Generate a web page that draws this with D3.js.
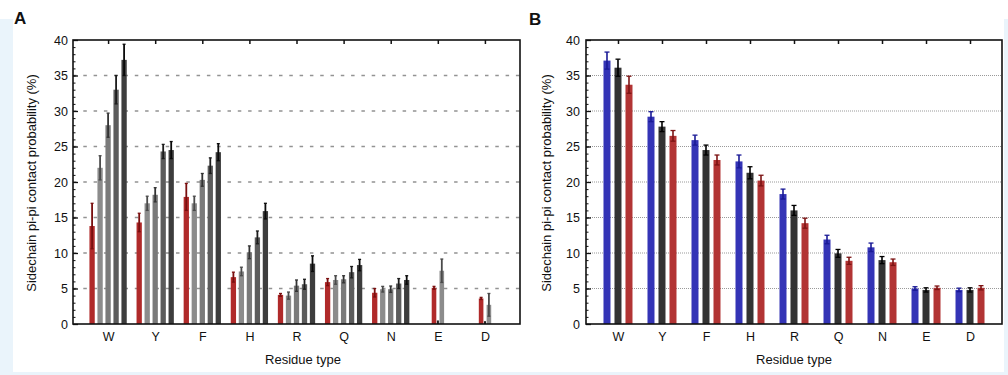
<!DOCTYPE html>
<html>
<head>
<meta charset="utf-8">
<script src="https://cdn.jsdelivr.net/npm/d3@7"></script>
<style>
  body { margin: 0; background: #eaf4fb; }
  svg { display: block; }
  text { font-family: "Liberation Sans", Arial, sans-serif; fill: #111; }
</style>
</head>
<body>
<svg id="chart" width="1008" height="375"></svg>
<script>
// ---- DATA ----
const residues = ["W", "Y", "F", "H", "R", "Q", "N", "E", "D"];
const yTicks = [0, 5, 10, 15, 20, 25, 30, 35, 40];

// Panel A: one red series and four gray series
const aSeries = ["red", "g1", "g2", "g3", "g4"];
const aRed    = [13.8, 14.3, 17.9, 6.6, 4.1, 5.9, 4.4, 5.1, 3.6];
const aRedErr = [3.2, 1.3, 1.9, 0.7, 0.2, 0.5, 0.6, 0.2, 0.15];
const aG1     = [22.0, 17.0, 17.0, 7.4, 4.0, 6.2, 4.9, 7.5, 2.7];
const aG1Err  = [1.7, 1.0, 1.0, 0.6, 0.5, 0.6, 0.4, 1.65, 1.6];
const aG2     = [28.0, 18.2, 20.3, 10.1, 5.4, 6.3, 4.9, null, null];
const aG2Err  = [1.7, 1.0, 0.9, 0.9, 0.8, 0.5, 0.45, null, null];
const aG3     = [33.0, 24.3, 22.3, 12.2, 5.6, 7.3, 5.7, null, null];
const aG3Err  = [2.0, 1.0, 1.1, 0.9, 0.7, 0.8, 0.7, null, null];
const aG4     = [37.2, 24.5, 24.2, 15.9, 8.5, 8.3, 6.2, null, null];
const aG4Err  = [2.2, 1.2, 1.2, 1.1, 1.1, 0.8, 0.6, null, null];
// small dark stub drawn between the two bars of E and D
const aStub   = [null, null, null, null, null, null, null, 0.5, 0.4];

// Panel B: blue, black, red series
const bSeries  = ["blue", "black", "red"];
const bBlue    = [37.1, 29.2, 25.9, 22.9, 18.3, 11.9, 10.8, 5.0, 4.8];
const bBlueErr = [1.2, 0.7, 0.7, 0.9, 0.7, 0.6, 0.6, 0.25, 0.25];
const bBlack   = [36.1, 27.8, 24.5, 21.3, 16.0, 9.95, 9.0, 4.8, 4.8];
const bBlackErr= [1.2, 0.7, 0.7, 0.85, 0.7, 0.55, 0.5, 0.3, 0.3];
const bRed     = [33.7, 26.5, 23.1, 20.2, 14.2, 8.9, 8.7, 5.1, 5.1];
const bRedErr  = [1.2, 0.75, 0.7, 0.75, 0.7, 0.5, 0.45, 0.25, 0.3];

const svg = d3.select("#chart");

// background: white figure on pale blue page
svg.append("rect").attr("width", 1008).attr("height", 375).attr("fill", "#eaf4fb");
svg.append("rect").attr("width", 1008).attr("height", 19).attr("fill", "#fff");
svg.append("rect").attr("x", 13).attr("width", 991).attr("height", 372).attr("fill", "#fff");

// horizontal grid for one panel
function drawGrid(g, y, left, right, gridStyle) {
  g.append("g").selectAll("line")
    .data(yTicks.filter(t => t > 0 && t < 40))
    .join("line")
    .attr("x1", left).attr("x2", right)
    .attr("y1", d => y(d)).attr("y2", d => y(d))
    .attr("stroke", gridStyle.color)
    .attr("stroke-width", gridStyle.width)
    .attr("stroke-dasharray", gridStyle.dash);
}

function drawAxes(g, x, y, left, right, top, bottom, labelPad) {
  // minor ticks
  g.append("g").attr("transform", `translate(${left},0)`)
    .call(d3.axisLeft(y).tickValues(d3.range(0, 41, 1)).tickSize(-2.5).tickFormat(""))
    .call(a => a.select(".domain").remove())
    .call(a => a.selectAll("line").attr("stroke", "#111").attr("stroke-width", 1));
  // major ticks + labels
  g.append("g").attr("transform", `translate(${left},0)`)
    .call(d3.axisLeft(y).tickValues(yTicks).tickSizeInner(-5).tickSizeOuter(0).tickPadding(labelPad))
    .call(a => a.select(".domain").remove())
    .call(a => a.selectAll("line").attr("stroke", "#111").attr("stroke-width", 1.3))
    .call(a => a.selectAll("text").style("font-size", "12.5px").attr("fill", "#111"));
  // top category ticks
  g.append("g").attr("transform", `translate(0,${top})`)
    .call(d3.axisTop(x).tickSize(-4).tickFormat(""))
    .call(a => a.select(".domain").remove())
    .call(a => a.selectAll("line").attr("stroke", "#111").attr("stroke-width", 1.5));
  // bottom category labels
  g.append("g").attr("transform", `translate(0,${bottom})`)
    .call(d3.axisBottom(x).tickSize(0).tickPadding(8.5))
    .call(a => a.select(".domain").remove())
    .call(a => a.selectAll("text").style("font-size", "12.5px").attr("fill", "#111"));
  // frame
  g.append("rect")
    .attr("x", left).attr("y", top)
    .attr("width", right - left).attr("height", bottom - top)
    .attr("fill", "none").attr("stroke", "#111").attr("stroke-width", 1.6);
}

function drawErr(g, recs, capW) {
  const eg = g.append("g");
  recs.filter(d => d.e != null).forEach(d => {
    eg.append("line")
      .attr("x1", d.x).attr("x2", d.x)
      .attr("y1", d.y(d.v + d.e)).attr("y2", d.y(Math.max(0, d.v - d.e)))
      .attr("stroke", d.ec).attr("stroke-width", d.ew);
    [d.v + d.e, d.v - d.e].forEach(t => {
      eg.append("line")
        .attr("x1", d.x - capW / 2).attr("x2", d.x + capW / 2)
        .attr("y1", d.y(t)).attr("y2", d.y(t))
        .attr("stroke", d.ec).attr("stroke-width", 1.3);
    });
  });
}

// ---------------- PANEL A ----------------
{
  const left = 73, right = 520, top = 40, bottom = 324;
  const x = d3.scalePoint().domain(residues).range([left, right]).padding(0.745);
  const y = d3.scaleLinear().domain([0, 40]).range([bottom, top]);
  const inner = d3.scalePoint().domain(aSeries).range([-16, 16]);
  const innerSparse = d3.scalePoint().domain(["red", "stub", "g1"]).range([-3.8, 4]);
  const g = svg.append("g");

  drawGrid(g, y, left, right, { color: "#939393", width: 1.3, dash: "3.5 6.8" });

  const vals = { red: aRed, g1: aG1, g2: aG2, g3: aG3, g4: aG4 };
  const errs = { red: aRedErr, g1: aG1Err, g2: aG2Err, g3: aG3Err, g4: aG4Err };
  const fill = { red: "#b02a2a", g1: "#8c8c8c", g2: "#7a7a7a", g3: "#5c5c5c", g4: "#3d3d3d", stub: "#222" };
  const ecol = { red: "#7a0f0f", g1: "#4a4a4a", g2: "#333", g3: "#1c1c1c", g4: "#0a0a0a" };

  const recs = [];
  residues.forEach((r, i) => {
    const sparse = aStub[i] != null;
    aSeries.forEach(s => {
      const v = vals[s][i];
      if (v == null) return;
      const off = sparse ? innerSparse(s) : inner(s);
      recs.push({ x: x(r) + off, v, e: errs[s][i], c: fill[s], ec: ecol[s], ew: 1.8, w: sparse ? 4.6 : 5.3, y });
    });
    if (sparse) recs.push({ x: x(r) + innerSparse("stub"), v: aStub[i], e: null, c: fill.stub, w: 2, y });
  });

  g.append("g").selectAll("rect").data(recs).join("rect")
    .attr("x", d => d.x - d.w / 2).attr("width", d => d.w)
    .attr("y", d => y(d.v)).attr("height", d => y(0) - y(d.v))
    .attr("fill", d => d.c);
  drawErr(g, recs, 3);

  drawAxes(g, x, y, left, right, top, bottom, 5);

  g.append("text").attr("x", 303).attr("y", 364).attr("text-anchor", "middle")
    .style("font-size", "13px").text("Residue type");
  g.append("text").attr("transform", `translate(36,${(top + bottom) / 2 + 1}) rotate(-90)`)
    .attr("text-anchor", "middle").style("font-size", "13px")
    .text("Sidechain pi-pi contact probability (%)");
  g.append("text").attr("x", 14).attr("y", 23.5).style("font-size", "17px")
    .style("font-weight", "bold").text("A");
}

// ---------------- PANEL B ----------------
{
  const left = 586, right = 1002, top = 40, bottom = 324;
  const x = d3.scalePoint().domain(residues).range([left, right]).padding(0.727);
  const y = d3.scaleLinear().domain([0, 40]).range([bottom, top]);
  const inner = d3.scalePoint().domain(bSeries).range([-11, 11]);
  const g = svg.append("g");

  drawGrid(g, y, left, right, { color: "#999", width: 1, dash: "1 1" });

  const vals = { blue: bBlue, black: bBlack, red: bRed };
  const errs = { blue: bBlueErr, black: bBlackErr, red: bRedErr };
  const fill = { blue: "#3434b6", black: "#333333", red: "#b23434" };
  const ecol = { blue: "#1a1a96", black: "#000", red: "#7d1414" };

  const recs = [];
  residues.forEach((r, i) => {
    bSeries.forEach(s => {
      recs.push({ x: x(r) + inner(s), v: vals[s][i], e: errs[s][i], c: fill[s], ec: ecol[s], ew: 1.6, w: 7, y });
    });
  });

  g.append("g").selectAll("rect").data(recs).join("rect")
    .attr("x", d => d.x - d.w / 2).attr("width", d => d.w)
    .attr("y", d => y(d.v)).attr("height", d => y(0) - y(d.v))
    .attr("fill", d => d.c);
  drawErr(g, recs, 5);

  drawAxes(g, x, y, left, right, top, bottom, 6);

  g.append("text").attr("x", 794).attr("y", 364).attr("text-anchor", "middle")
    .style("font-size", "13px").text("Residue type");
  g.append("text").attr("transform", `translate(551,${(top + bottom) / 2 + 1}) rotate(-90)`)
    .attr("text-anchor", "middle").style("font-size", "13px")
    .text("Sidechain pi-pi contact probability (%)");
  g.append("text").attr("x", 529).attr("y", 24.5).style("font-size", "17px")
    .style("font-weight", "bold").text("B");
}
</script>
</body>
</html>
